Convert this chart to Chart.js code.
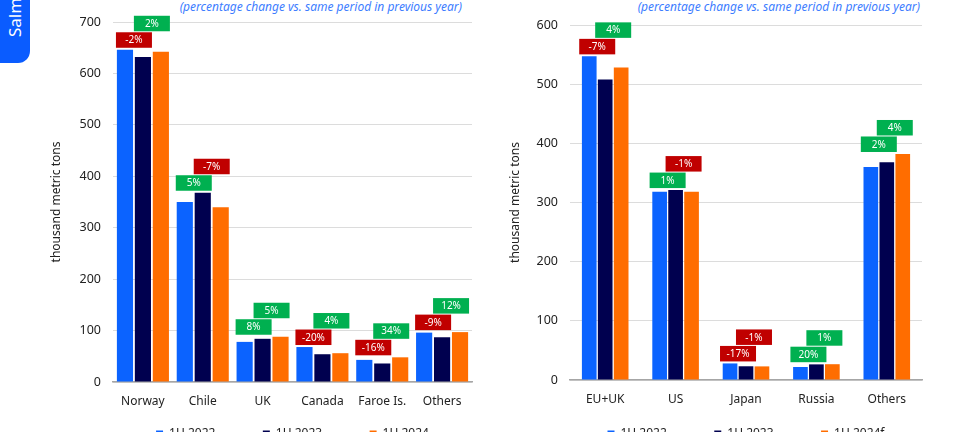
<!DOCTYPE html>
<html>
<head>
<meta charset="utf-8">
<script src="https://cdn.jsdelivr.net/npm/chart.js@4.4.1/dist/chart.umd.min.js"></script>
<style>
  body { margin:0; width:960px; height:432px; overflow:hidden; position:relative; background:#fff; font-family:'Noto Sans', sans-serif; }
  .tab { position:absolute; left:0; top:0; width:30px; height:63px; background:#0a5cff; border-bottom-right-radius:12px; overflow:hidden; }
  .tab span { position:absolute; left:5px; top:37px; color:#fff; font-size:17px; line-height:20px; white-space:nowrap; transform:rotate(-90deg); transform-origin:left top; }
  .sub { position:absolute; top:-1px; color:#3d7dff; font-style:italic; font-size:12px; line-height:16px; white-space:nowrap; }
  .box { position:absolute; top:0; width:480px; height:450px; }
</style>
</head>
<body>
<div class="tab"><span>Salmon</span></div>
<div class="sub" style="right:498px">(percentage change vs. same period in previous year)</div>
<div class="sub" style="right:40px">(percentage change vs. same period in previous year)</div>
<div class="box" style="left:0"><canvas id="chart-left"></canvas></div>
<div class="box" style="left:480px"><canvas id="chart-right"></canvas></div>
<script>
// supply by country
const leftCategories = ['Norway', 'Chile', 'UK', 'Canada', 'Faroe Is.', 'Others']
const left2022 = [646, 350, 78, 68, 43, 96]
const left2023 = [632, 368, 84, 54, 36, 87]
const left2024 = [642, 340, 88, 56, 48, 97]
const leftChange2023 = ['-2%', '5%', '8%', '-20%', '-16%', '-9%']
const leftChange2024 = ['2%', '-7%', '5%', '4%', '34%', '12%']
const leftTicks = [0, 700, 100]

// supply by market
const rightCategories = ['EU+UK', 'US', 'Japan', 'Russia', 'Others']
const right2022 = [547, 318, 28, 22, 360]
const right2023 = [508, 321, 23.2, 26.4, 368]
const right2024 = [528, 318, 23, 26.7, 382]
const rightChange2023 = ['-7%', '1%', '-17%', '20%', '2%']
const rightChange2024 = ['4%', '-1%', '-1%', '1%', '4%']
const rightTicks = [0, 600, 100]

const leftSeries = ['1H 2022', '1H 2023', '1H 2024']
const rightSeries = ['1H 2022', '1H 2023', '1H 2024f']

const _colors = ['#0b63ff', '#00004f', '#ff6d00']
const _red = '#c00000'
const _green = '#00b050'

Chart.defaults.font.family = "'Noto Sans', sans-serif"
Chart.defaults.color = '#222'

// percentage boxes stacked above each group of bars
const changeLabels = {
    id: 'changeLabels',
    afterDatasetsDraw(chart, args, opts) {
        let ctx = chart.ctx
        let bars = [0, 1, 2].map(i => chart.getDatasetMeta(i).data)
        ctx.save()
        ctx.font = "10px 'Noto Sans', sans-serif"
        ctx.textAlign = 'center'
        ctx.textBaseline = 'middle'
        bars[0].forEach(function(bar0, i) {
            let bar1 = bars[1][i]
            let bar2 = bars[2][i]
            let bottom = Math.min(bar0.y, bar1.y, bar2.y) - 2
            let pairs = [[bar0, bar1, opts.first[i]], [bar1, bar2, opts.second[i]]]
            pairs.forEach(function(p) {
                let cx = (p[0].x + p[1].x) / 2
                let top = bottom - opts.boxH
                ctx.fillStyle = p[2].startsWith('-') ? _red : _green
                ctx.fillRect(cx - opts.boxW / 2, top, opts.boxW, opts.boxH)
                ctx.fillStyle = '#fff'
                ctx.fillText(p[2], cx, top + opts.boxH / 2 + 0.5)
                bottom = top - 1
            })
        })
        ctx.restore()
    }
}

function makeChart(id, categories, series, values, ticks, changes, layout) {
    let _datasets = series.map(function(name, i) {
        return {
            label: name,
            data: values[i],
            backgroundColor: _colors[i],
            categoryPercentage: layout.catPct,
            barPercentage: layout.barPct
        }
    })
    return new Chart(document.getElementById(id).getContext('2d'), {
        type: 'bar',
        data: { labels: categories, datasets: _datasets },
        plugins: [changeLabels],
        options: {
            responsive: true,
            maintainAspectRatio: false,
            animation: false,
            layout: { padding: layout.padding },
            scales: {
                x: {
                    grid: { display: false, drawTicks: false },
                    border: { color: '#a6a6a6', width: 1.5 },
                    ticks: { padding: 12, font: { size: 12 }, color: '#222' },
                    afterFit(scale) { scale.height = layout.xHeight }
                },
                y: {
                    min: ticks[0],
                    max: ticks[1],
                    ticks: { stepSize: ticks[2], padding: 12, font: { size: 12.5 }, color: '#222' },
                    grid: { color: '#dcdcdc', drawTicks: false },
                    border: { display: false },
                    title: { display: true, text: 'thousand metric tons', font: { size: 12 }, color: '#222' },
                    afterFit(scale) { scale.width = layout.yWidth }
                }
            },
            plugins: {
                tooltip: { enabled: false },
                legend: {
                    position: 'bottom',
                    fullSize: false,
                    labels: {
                        boxWidth: 7,
                        boxHeight: 7,
                        font: { size: 12 },
                        color: '#222',
                        generateLabels(chart) {
                            let items = Chart.defaults.plugins.legend.labels.generateLabels(chart)
                            items.forEach(function(item, i) {
                                if (i < items.length - 1) item.text = item.text + '            '
                            })
                            return items
                        }
                    }
                },
                changeLabels: { first: changes[0], second: changes[1], boxW: 36, boxH: 15.5 }
            }
        }
    })
}

makeChart('chart-left', leftCategories, leftSeries, [left2022, left2023, left2024], leftTicks,
    [leftChange2023, leftChange2024],
    { padding: { left: 45, right: 8, top: 22, bottom: 0 }, yWidth: 68, xHeight: 36, catPct: 0.9, barPct: 0.9 })

makeChart('chart-right', rightCategories, rightSeries, [right2022, right2023, right2024], rightTicks,
    [rightChange2023, rightChange2024],
    { padding: { left: 24, right: 38, top: 25, bottom: 0 }, yWidth: 66, xHeight: 38, catPct: 0.68, barPct: 0.92 })
</script>
</body>
</html>
